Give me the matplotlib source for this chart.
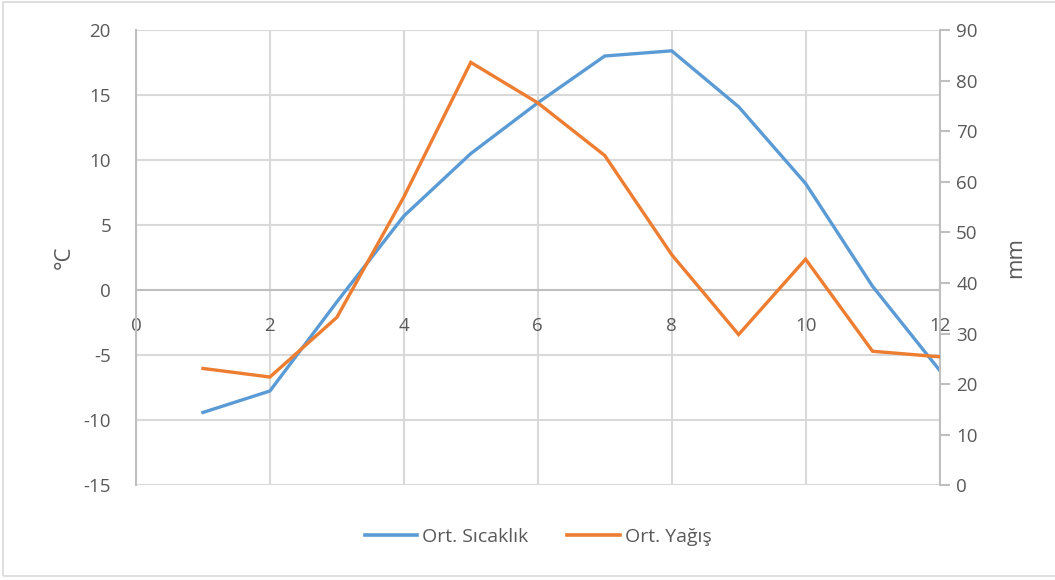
import matplotlib.pyplot as plt
from matplotlib.patches import Rectangle
from matplotlib.lines import Line2D

plt.rcParams["font.family"] = ["Open Sans", "DejaVu Sans"]
plt.rcParams["axes.unicode_minus"] = False

MONTHS = [1, 2, 3, 4, 5, 6, 7, 8, 9, 10, 11, 12]
TEMP = [-9.4, -7.75, -0.9, 5.7, 10.5, 14.4, 18.0, 18.4, 14.1, 8.2, 0.3, -6.15]
RAIN = [23.1, 21.4, 33.2, 57.0, 83.6, 75.6, 65.2, 45.6, 29.8, 44.7, 26.5, 25.4]
X_TICKS = [0, 2, 4, 6, 8, 10, 12]
TEMP_TICKS = [-15, -10, -5, 0, 5, 10, 15, 20]
RAIN_TICKS = [0, 10, 20, 30, 40, 50, 60, 70, 80, 90]

BLUE = "#5B9BD5"
ORANGE = "#ED7D31"
GRID = "#D9D9D9"
TEXT = "#595959"

W, H = 1055, 580
fig = plt.figure(figsize=(W / 100, H / 100), dpi=100)
ax = fig.add_axes([136 / W, 1 - 485.3 / H, (939.5 - 136) / W, (485.3 - 30) / H])
ax2 = ax.twinx()

# outer chart border
fig.patches.append(Rectangle((2.5 / W, 4.5 / H), 1.2, 1 - 6 / H, transform=fig.transFigure,
                             fill=False, edgecolor="#D9D9D9", linewidth=1.2))

ax.set_xlim(0, 12)
ax.set_ylim(-15, 20)
ax2.set_ylim(0, 90)

ax.set_xticks(X_TICKS)
ax.set_yticks(TEMP_TICKS)
ax2.set_yticks(RAIN_TICKS)
ax.grid(True, color=GRID, linewidth=1.5)
ax.set_axisbelow(True)

for s in ["top", "right"]:
    ax.spines[s].set_visible(False)
ax.spines["bottom"].set_position(("data", 0))
ax.spines["bottom"].set_color("#BFBFBF")
ax.spines["bottom"].set_linewidth(1.5)
ax.spines["left"].set_color("#BFBFBF")
ax.spines["left"].set_linewidth(1.5)
for s in ["top", "left", "bottom"]:
    ax2.spines[s].set_visible(False)
ax2.spines["right"].set_color("#BFBFBF")
ax2.spines["right"].set_linewidth(1.5)

ax.tick_params(axis="both", length=0, labelsize=13.5, labelcolor=TEXT)
ax.tick_params(axis="x", pad=19)
ax.tick_params(axis="y", pad=18)
ax2.tick_params(axis="y", direction="out", length=7, width=1.5, color="#BFBFBF",
                labelsize=13.5, labelcolor=TEXT, pad=5)

ax.plot(MONTHS, TEMP, color=BLUE, linewidth=2.4, solid_joinstyle="miter", zorder=3)
ax2.plot(MONTHS, RAIN, color=ORANGE, linewidth=2.4, solid_joinstyle="miter", zorder=3)

ax.set_ylabel("°C", fontsize=16, color=TEXT, labelpad=6)
ax2.set_ylabel("mm", fontsize=16, color=TEXT, labelpad=20)

handles = [Line2D([], [], color=BLUE, linewidth=2.6),
           Line2D([], [], color=ORANGE, linewidth=2.6)]
leg = fig.legend(handles, ["Ort. Sıcaklık", "Ort. Yağış"], loc="center",
                 bbox_to_anchor=(538 / W, 1 - 537 / H), ncol=2, frameon=False,
                 fontsize=14, handlelength=2.7, handletextpad=0.25, columnspacing=2.0)
for t in leg.get_texts():
    t.set_color(TEXT)

fig.savefig("out.png", dpi=100)
